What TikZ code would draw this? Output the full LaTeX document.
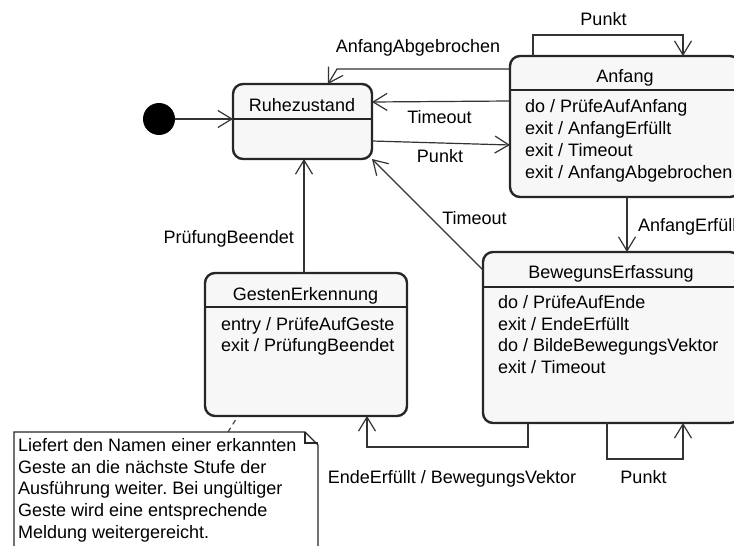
\documentclass[tikz,border=0pt]{standalone}
\usepackage{fontspec}
\setmainfont{Liberation Sans}
\usetikzlibrary{arrows.meta}
\frenchspacing
\begin{document}
\begin{tikzpicture}[x=1pt,y=-1pt,
  font=\fontsize{18}{21.8}\selectfont,
  statebox/.style={draw=black!85, line width=2.4pt, rounded corners=10pt,
    fill=black!3, outer sep=0pt, inner sep=0pt, anchor=north west},
  divider/.style={draw=black!85, line width=1.2pt},
  trans/.style={draw=black!80, line width=1.2pt,
    -{Straight Barb[length=14pt,width=17pt]}},
  title/.style={anchor=base, inner sep=0pt},
  body/.style={anchor=base west, align=left, inner sep=0pt},
  lbl/.style={anchor=base, inner sep=0pt},
  notetext/.style={anchor=north west, align=left, inner sep=0pt},
  noteline/.style={draw=black!85, line width=1.1pt, fill=white},
  anchorline/.style={draw=black!75, line width=1.2pt, dash pattern=on 5pt off 4pt}]

\useasboundingbox (0,0) rectangle (734,546);
\clip (0,0) rectangle (734,546);

% initial pseudo state
\node[circle, fill=black, minimum size=32pt, inner sep=0pt, outer sep=0pt] (init) at (159,119) {};

% states
\node[statebox, minimum width=139pt, minimum height=75pt] (ruhe) at (233,84) {};
\node[statebox, minimum width=230pt, minimum height=141pt] (anf) at (510,56) {};
\node[statebox, minimum width=257pt, minimum height=171pt] (bew) at (483,252) {};
\node[statebox, minimum width=202pt, minimum height=143pt] (ges) at (205,273) {};

% compartment dividers
\draw[divider] (ruhe.west |- 0,119) -- (ruhe.east |- 0,119);
\draw[divider] (anf.west |- 0,90) -- (anf.east |- 0,90);
\draw[divider] (bew.west |- 0,287) -- (bew.east |- 0,287);
\draw[divider] (ges.west |- 0,307) -- (ges.east |- 0,307);

% state names
\node[title] (ruhe-t) at (302,111.5) {Ruhezustand};
\node[title] (anf-t) at (625,82) {Anfang};
\node[title] (bew-t) at (611,278.3) {BewegunsErfassung};
\node[title] (ges-t) at (305.5,300) {GestenErkennung};

% internal activities (anchored at the baseline of the last line)
\node[body] (anf-b) at (525,178.1) {do / PrüfeAufAnfang\\exit / AnfangErfüllt\\exit / Timeout\\exit / AnfangAbgebrochen};
\node[body] (bew-b) at (498,373.7) {do / PrüfeAufEnde\\exit / EndeErfüllt\\do / BildeBewegungsVektor\\exit / Timeout};
\node[body] (ges-b) at (221,351.8) {entry / PrüfeAufGeste\\exit / PrüfungBeendet};

% transitions
\draw[trans] (init.east) -- (ruhe.west |- init);
\draw[trans] (anf.west |- 0,69) -- (337,69) -- ([xshift=25.5pt]ruhe.north);
\draw[trans] (anf.west |- 0,101) -- (ruhe.east |- 0,102);
\draw[trans] (ruhe.east |- 0,141) -- (anf.west |- 0,145);
\draw[trans] (anf.north -| 533,0) |- (683,35) -- (anf.north -| 683,0);
\draw[trans] (anf.south -| 627,0) -- (bew.north -| 627,0);
\draw[trans] (bew.west |- 0,270) -- (ruhe.south east);
\draw[trans] (ges.north -| 304,0) -- (ruhe.south -| 304,0);
\draw[trans] (bew.south -| 528,0) |- (367,447) -- (ges.south -| 367,0);
\draw[trans] (bew.south -| 607,0) |- (683,459) -- (bew.south -| 683,0);

% transition labels
\node[lbl] (l-abg) at (418,52) {AnfangAbgebrochen};
\node[lbl] (l-p1) at (603.5,25) {Punkt};
\node[lbl] (l-t1) at (439.5,123) {Timeout};
\node[lbl] (l-p2) at (440,162) {Punkt};
\node[lbl] (l-t2) at (474.5,224) {Timeout};
\node[lbl, anchor=base west] (l-erf) at (638,231.7) {AnfangErfüllt};
\node[lbl, anchor=base east] (l-pb) at (294,243) {PrüfungBeendet};
\node[lbl] (l-ende) at (452,483) {EndeErfüllt / BewegungsVektor};
\node[lbl] (l-p3) at (643.5,483) {Punkt};

% comment note with folded corner
\draw[noteline] (14,432) -- (305,432) -- (318,445) -- (318,560) -- (14,560) -- cycle;
\draw[draw=black!85, line width=1.1pt] (305,432) |- (318,443);
\node[notetext] (note) at (18,438) {Liefert den Namen einer erkannten\\Geste an die nächste Stufe der\\Ausführung weiter. Bei ungültiger\\Geste wird eine entsprechende\\Meldung weitergereicht.};
\draw[anchorline] (note.north -| 228,0) ++(0,-6) -- (ges.south -| 238,0);
\end{tikzpicture}
\end{document}
